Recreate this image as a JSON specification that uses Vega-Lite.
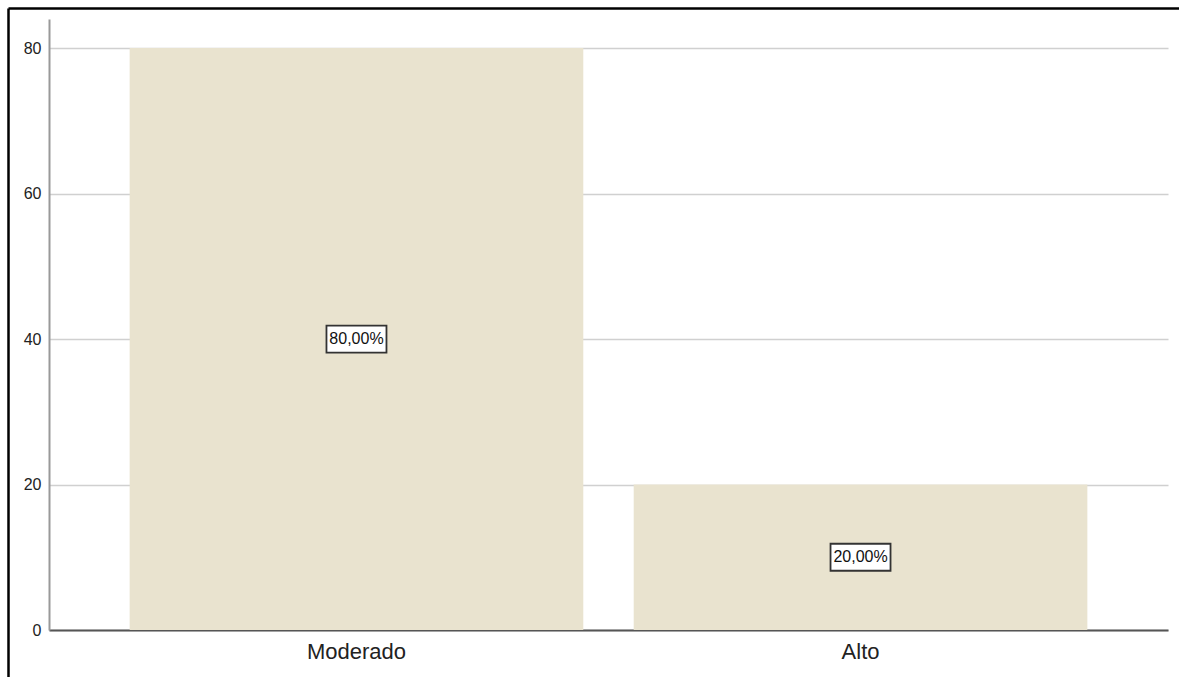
{
  "$schema": "https://vega.github.io/schema/vega-lite/v6.json",
  "width": 1119,
  "height": 611,
  "autosize": {"type": "none"},
  "padding": {"left": 49, "top": 19, "right": 11, "bottom": 47},
  "background": "white",
  "config": {
    "view": {"stroke": null},
    "font": "Liberation Sans"
  },
  "data": {
    "values": [
      {"category": "Moderado", "value": 80, "pct": "80,00%"},
      {"category": "Alto", "value": 20, "pct": "20,00%"}
    ]
  },
  "transform": [{"calculate": "datum.value / 2", "as": "mid"}],
  "resolve": {"scale": {"x": "independent", "y": "independent"}, "axis": {"x": "independent", "y": "independent"}},
  "layer": [
    {
      "layer": [
        {
          "mark": {"type": "bar", "color": "#e9e3cf"},
          "encoding": {
            "x": {
              "field": "category",
              "type": "nominal",
              "sort": ["Moderado", "Alto"],
              "scale": {"paddingInner": 0.1, "paddingOuter": 0.16},
              "axis": {
                "title": null,
                "labelAngle": 0,
                "labelFontSize": 22,
                "labelColor": "#222",
                "labelPadding": 11,
                "ticks": false,
                "domainColor": "#555",
                "domainWidth": 2
              }
            },
            "y": {
              "field": "value",
              "type": "quantitative",
              "scale": {"domain": [0, 84], "nice": false},
              "axis": {
                "title": null,
                "values": [0, 20, 40, 60, 80],
                "labelFontSize": 16,
                "labelColor": "#222",
                "labelPadding": 8,
                "ticks": false,
                "domainColor": "#999",
                "domainWidth": 2,
                "grid": true,
                "gridColor": "#d0d0d0",
                "gridWidth": 1.5
              }
            }
          }
        },
        {
          "mark": {
            "type": "point",
            "shape": "M-1,-0.45H1V0.45H-1Z",
            "filled": true,
            "fill": "white",
            "stroke": "#333",
            "strokeWidth": 1.8,
            "size": 3600,
            "opacity": 1
          },
          "encoding": {
            "x": {"field": "category", "type": "nominal", "sort": ["Moderado", "Alto"]},
            "y": {"field": "mid", "type": "quantitative"}
          }
        },
        {
          "mark": {"type": "text", "fontSize": 16, "color": "#111", "baseline": "middle", "align": "center"},
          "encoding": {
            "x": {"field": "category", "type": "nominal", "sort": ["Moderado", "Alto"]},
            "y": {"field": "mid", "type": "quantitative"},
            "text": {"field": "pct", "type": "nominal"}
          }
        }
      ]
    },
    {
      "mark": {"type": "point", "opacity": 0},
      "encoding": {
        "x": {
          "field": "value",
          "type": "quantitative",
          "scale": {"domain": [0, 1], "range": [-41, 1130], "nice": false, "zero": false},
          "axis": {
            "orient": "top",
            "offset": 11,
            "title": null,
            "labels": false,
            "ticks": false,
            "grid": false,
            "domainColor": "#000",
            "domainWidth": 2.5
          }
        },
        "y": {
          "field": "value",
          "type": "quantitative",
          "scale": {"domain": [0, 1], "range": [670, -11], "nice": false, "zero": false},
          "axis": {
            "orient": "left",
            "offset": 41,
            "title": null,
            "labels": false,
            "ticks": false,
            "grid": false,
            "domainColor": "#000",
            "domainWidth": 2.5
          }
        }
      }
    }
  ]
}
